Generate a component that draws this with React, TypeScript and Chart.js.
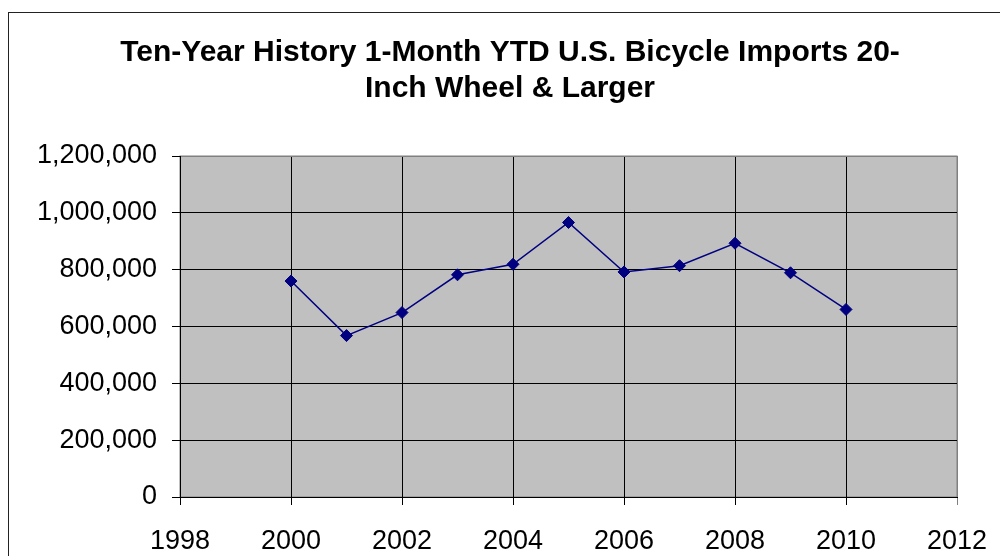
import React, { useEffect, useRef } from "react";
import { Chart, registerables } from "chart.js";

Chart.register(...registerables);

const years = [2000, 2001, 2002, 2003, 2004, 2005, 2006, 2007, 2008, 2009, 2010];
const imports = [760000, 568000, 649000, 782000, 819000, 966000, 792000, 814000, 893000, 789000, 660000];
const titleLines = ["Ten-Year History 1-Month YTD U.S. Bicycle Imports 20-", "Inch Wheel & Larger"];
const xMin = 1998;
const xMax = 2012;
const yMax = 1200000;

const FONT = "'Liberation Sans', Arial, sans-serif";

const framePlugin = {
  id: "frame",
  beforeDraw(chart: any) {
    const { ctx, chartArea } = chart;
    ctx.save();
    ctx.fillStyle = "#ffffff";
    ctx.fillRect(0, 0, chart.width, chart.height);
    ctx.strokeStyle = "#222222";
    ctx.lineWidth = 1;
    ctx.strokeRect(8.5, 12.5, 1200, 800);
    ctx.fillStyle = "#C0C0C0";
    ctx.fillRect(chartArea.left, chartArea.top, chartArea.right - chartArea.left, chartArea.bottom - chartArea.top);
    ctx.strokeStyle = "#808080";
    ctx.strokeRect(chartArea.left, chartArea.top, chartArea.right - chartArea.left, chartArea.bottom - chartArea.top);
    ctx.fillStyle = "#000";
    ctx.font = `bold 30px ${FONT}`;
    ctx.textAlign = "center";
    ctx.textBaseline = "middle";
    titleLines.forEach((t, i) => ctx.fillText(t, 510, 53 + i * 36));
    ctx.restore();
  },
};

export default function App() {
  const ref = useRef<HTMLCanvasElement>(null);
  useEffect(() => {
    document.body.style.margin = "0";
    const chart = new Chart(ref.current!, {
      type: "line",
      data: {
        datasets: [
          {
            data: years.map((y, i) => ({ x: y, y: imports[i] })),
            borderColor: "#000080",
            borderWidth: 1.5,
            backgroundColor: "#000080",
            pointStyle: "rectRot",
            pointRadius: 6,
            pointBorderWidth: 1,
            pointBackgroundColor: "#000080",
            pointBorderColor: "#000080",
            tension: 0,
          },
        ],
      },
      options: {
        animation: false,
        responsive: false,
        layout: { padding: { left: 0, right: 43, top: 156, bottom: 0 } },
        plugins: {
          legend: { display: false },
          tooltip: { enabled: false },
          title: { display: false },
        },
        scales: {
          x: {
            type: "linear",
            min: xMin,
            max: xMax,
            afterFit: (s: any) => {
              s.height = 59;
              s.paddingLeft = 0;
              s.paddingRight = 0;
            },
            ticks: {
              stepSize: 2,
              callback: (v: any) => String(v),
              color: "#000",
              font: { family: FONT, size: 27 },
              padding: 20,
              maxRotation: 0,
            },
            grid: {
              color: (c: any) => (c.tick && c.tick.value === xMax ? "#808080" : "#000"),
              tickColor: (c: any) => (c.tick && c.tick.value === xMax ? "#808080" : "#000"),
              tickLength: 8,
              lineWidth: 1,
            },
            border: { color: "#000", width: 1 },
          },
          y: {
            min: 0,
            max: yMax,
            afterFit: (s: any) => {
              s.width = 180;
              s.paddingTop = 0;
              s.paddingBottom = 0;
            },
            ticks: {
              stepSize: 200000,
              callback: (v: any) => Number(v).toLocaleString("en-US"),
              color: "#000",
              font: { family: FONT, size: 27 },
              padding: 15,
            },
            grid: {
              color: (c: any) => (c.tick && c.tick.value === yMax ? "#808080" : "#000"),
              tickColor: "#000",
              tickLength: 8,
              lineWidth: 1,
            },
            border: { color: "#000", width: 1 },
          },
        },
      },
      plugins: [framePlugin],
    });
    return () => chart.destroy();
  }, []);
  return <canvas ref={ref} width={1000} height={556} style={{ display: "block" }} />;
}
